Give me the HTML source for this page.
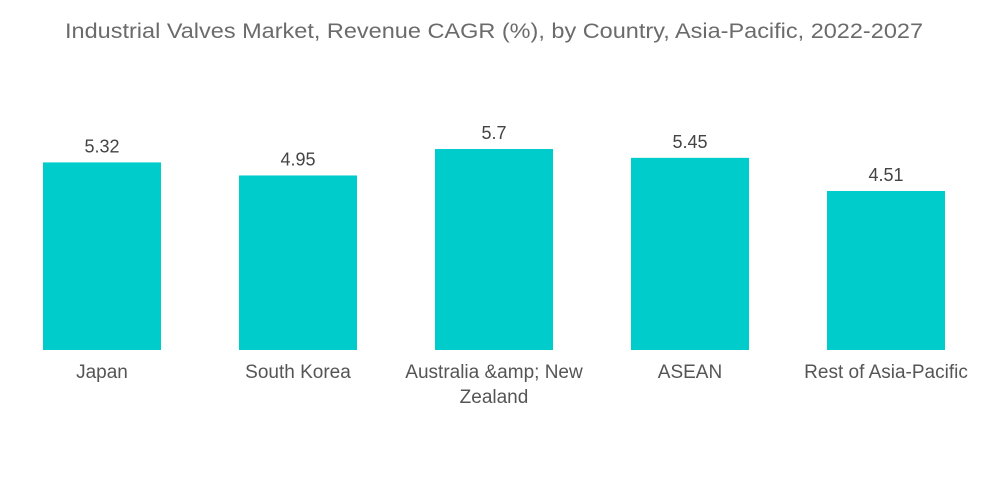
<!DOCTYPE html>
<html><head><meta charset="utf-8"><style>
html,body{margin:0;padding:0;background:#fff;}
svg{display:block;font-family:"Liberation Sans",sans-serif;}
</style></head><body>
<svg id="chart" width="1000" height="504" viewBox="0 0 1000 504">
<text x="494" y="38" text-anchor="middle" font-size="21" fill="#6b6b6b" textLength="858" lengthAdjust="spacingAndGlyphs">Industrial Valves Market, Revenue CAGR (%), by Country, Asia-Pacific, 2022-2027</text>
<g id="bars"></g>
</svg>
<script>
const categories = ["Japan", "South Korea", "Australia &amp; New|Zealand", "ASEAN", "Rest of Asia-Pacific"];
const values = [5.32, 4.95, 5.7, 5.45, 4.51];
const valueLabels = ["5.32", "4.95", "5.7", "5.45", "4.51"];
const baseY = 350, pxPerUnit = 35.26, slot = 196, x0 = 43, barW = 118;
function yScale(v){ return baseY - v * pxPerUnit; }
function xScale(i){ return x0 + i * slot; }
const ns = "http://www.w3.org/2000/svg";
const g = document.getElementById("bars");
categories.forEach((c, i) => {
  const x = xScale(i), y = yScale(values[i]);
  const r = document.createElementNS(ns, "rect");
  
  
  r.setAttribute("x", x); r.setAttribute("y", y);
  r.setAttribute("width", barW); r.setAttribute("height", baseY - y);
  r.setAttribute("fill", "#00CCCC");
  g.appendChild(r);
  const t = document.createElementNS(ns, "text");
  
  
  t.setAttribute("x", x + barW / 2); t.setAttribute("y", y - 10);
  t.setAttribute("text-anchor", "middle"); t.setAttribute("font-size", "18"); t.setAttribute("fill", "#444");
  t.textContent = valueLabels[i];
  g.appendChild(t);
  c.split("|").forEach((line, j) => {
    const l = document.createElementNS(ns, "text");
    
    
    l.setAttribute("x", x + barW / 2); l.setAttribute("y", 378 + j * 25);
    l.setAttribute("text-anchor", "middle"); l.setAttribute("font-size", "19"); l.setAttribute("fill", "#555");
    l.textContent = line;
    g.appendChild(l);
  });
});
</script>
</body></html>
